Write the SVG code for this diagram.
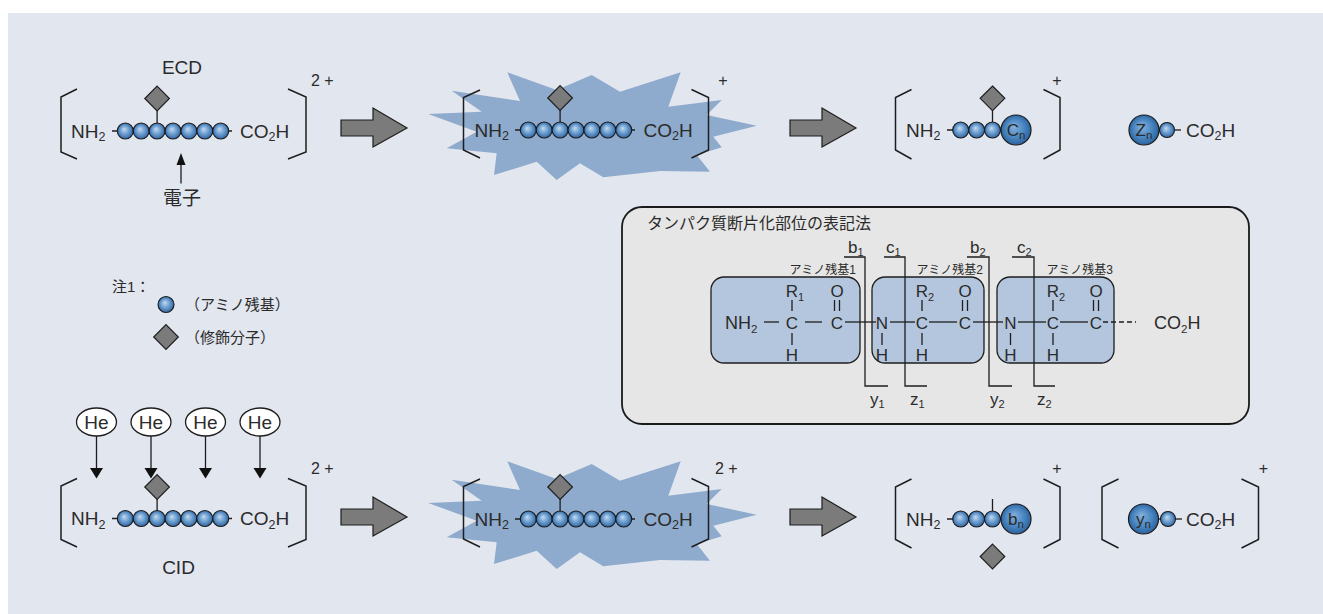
<svg xmlns="http://www.w3.org/2000/svg" xmlns:xlink="http://www.w3.org/1999/xlink" width="1323" height="614" viewBox="0 0 1323 614">
  <style>
    .t { font-family: "Liberation Sans", "Noto Sans CJK JP", sans-serif; fill: #2b2b2b; }
    .f19 { font-size: 19px; }
    .f18 { font-size: 18px; }
    .f17 { font-size: 17px; }
    .f16 { font-size: 16px; }
    .f15 { font-size: 15px; }
    .f12 { font-size: 12px; }
    .mid { text-anchor: middle; }
    .end { text-anchor: end; }
    .ln { stroke: #1e1e1e; stroke-width: 1.3; fill: none; }
    .br { stroke: #1e1e1e; stroke-width: 1.5; fill: none; }
    .he { fill: #ffffff; stroke: #1e1e1e; stroke-width: 1.3; }
    .panel { fill: #e6e6e6; stroke: #1a1a1a; stroke-width: 1.8; }
    .res { fill: #b4c6de; stroke: #1e1e1e; stroke-width: 1.3; }
    .head { fill: #111; }
  </style>
  <defs>
    <radialGradient id="gBead" cx="0.5" cy="0.5" r="0.55" fx="0.42" fy="0.38">
      <stop offset="0" stop-color="#c4daef"/>
      <stop offset="0.5" stop-color="#6b9dd0"/>
      <stop offset="1" stop-color="#275c96"/>
    </radialGradient>
    <radialGradient id="gBig" cx="0.5" cy="0.5" r="0.55" fx="0.42" fy="0.38">
      <stop offset="0" stop-color="#86b2dc"/>
      <stop offset="0.6" stop-color="#4683bf"/>
      <stop offset="1" stop-color="#275b94"/>
    </radialGradient>
    <circle id="bead" r="8" fill="url(#gBead)" stroke="#1a1a1a" stroke-width="1.1"/>
    <circle id="bigBead" r="15" fill="url(#gBig)" stroke="#1a1a1a" stroke-width="1.2"/>
    <path id="dia" d="M0,-12.3 L12.3,0 L0,12.3 L-12.3,0 Z" fill="#7b7b7b" stroke="#1e1e1e" stroke-width="1.2"/>
    <polygon id="burst" points="451.7,90.7 520,101 507.3,72.3 556.7,90 591.7,75 620,91.7 680.7,72.3 668.3,106.7 721.7,100 706.7,115 756.7,125.7 713.3,136.7 721.7,147.3 696.7,155 710,171.7 660,171 603.3,177.3 580,163.3 556.7,180 536.7,161.7 494,175 496.7,153.3 446.7,148.3 476.7,131.7 428.3,114 481.7,111.7" fill="#8eaacc"/>
    <path id="bigArrow" d="M0,-8 L32,-8 L32,-20 L66,0 L32,19 L32,8 L0,8 Z" fill="#7b7b7b" stroke="#1e1e1e" stroke-width="1.2"/>
  </defs>

  <!-- background panel -->
  <rect x="8" y="13" width="1315" height="601" fill="#e2e6ef"/>

  <!-- ECD: doubly charged precursor -->
  <g id="ecd-precursor">
    <text class="t f19 mid" x="182" y="74">ECD</text>
    <polyline class="br" points="77,89 61,97 61,152 77,159"/>
    <polyline class="br" points="288,89 306,97 306,152 288,159"/>
    <text class="t f16" x="311" y="86">2 +</text>
    <text class="t f19" x="71" y="137.5">NH<tspan font-size="12.5" dy="3.5">2</tspan></text>
    <line class="ln" x1="112" y1="131" x2="232" y2="131"/>
    <line class="ln" x1="157.1" y1="110.5" x2="157.1" y2="123"/>
    <use xlink:href="#dia" x="157.1" y="98.5"/>
    <use xlink:href="#bead" x="125.3" y="131"/>
    <use xlink:href="#bead" x="141.2" y="131"/>
    <use xlink:href="#bead" x="157.1" y="131"/>
    <use xlink:href="#bead" x="173" y="131"/>
    <use xlink:href="#bead" x="188.9" y="131"/>
    <use xlink:href="#bead" x="204.8" y="131"/>
    <use xlink:href="#bead" x="220.7" y="131"/>
    <text class="t f19" x="240" y="137.5">CO<tspan font-size="12.5" dy="3.5">2</tspan><tspan dy="-3.5">H</tspan></text>
    <text class="t f19 mid" x="182" y="205">電子</text>
  </g>

  <!-- ECD: excited species -->
  <g id="ecd-excited">
    <use xlink:href="#burst"/>
    <polyline class="br" points="480,90 463.5,97.5 463.5,150 480,158"/>
    <polyline class="br" points="691.5,89.5 708.5,97.5 708.5,150 691.5,158"/>
    <text class="t f16 mid" x="723" y="86">+</text>
    <text class="t f19" x="474.5" y="136.5">NH<tspan font-size="12.5" dy="3.5">2</tspan></text>
    <line class="ln" x1="515" y1="130" x2="635" y2="130"/>
    <line class="ln" x1="560.1" y1="110" x2="560.1" y2="122"/>
    <use xlink:href="#dia" x="560.1" y="98"/>
    <use xlink:href="#bead" x="528.3" y="130"/>
    <use xlink:href="#bead" x="544.2" y="130"/>
    <use xlink:href="#bead" x="560.1" y="130"/>
    <use xlink:href="#bead" x="576" y="130"/>
    <use xlink:href="#bead" x="591.9" y="130"/>
    <use xlink:href="#bead" x="607.8" y="130"/>
    <use xlink:href="#bead" x="623.7" y="130"/>
    <text class="t f19" x="643.5" y="136.5">CO<tspan font-size="12.5" dy="3.5">2</tspan><tspan dy="-3.5">H</tspan></text>
  </g>

  <!-- ECD: c-ion fragment -->
  <g id="ecd-c-ion">
    <polyline class="br" points="911.5,89.5 895.5,97.5 895.5,150 911.5,159"/>
    <polyline class="br" points="1043.5,89.5 1060,97.5 1060,150 1043.5,159"/>
    <text class="t f16 mid" x="1057" y="86">+</text>
    <text class="t f19" x="906" y="136.5">NH<tspan font-size="12.5" dy="3.5">2</tspan></text>
    <line class="ln" x1="947" y1="130" x2="1000" y2="130"/>
    <line class="ln" x1="992.5" y1="110.5" x2="992.5" y2="122"/>
    <use xlink:href="#dia" x="992.5" y="98.3"/>
    <use xlink:href="#bead" x="960.7" y="130"/>
    <use xlink:href="#bead" x="976.6" y="130"/>
    <use xlink:href="#bead" x="992.5" y="130"/>
    <use xlink:href="#bigBead" x="1016" y="130"/>
    <text class="t f17 mid" x="1016" y="136">C<tspan font-size="11.5" dy="3">n</tspan></text>
  </g>

  <!-- ECD: z-ion fragment -->
  <g id="ecd-z-ion">
    <line class="ln" x1="1150" y1="130" x2="1181" y2="130"/>
    <use xlink:href="#bead" x="1167" y="130" transform="translate(1167 130) scale(0.94) translate(-1167 -130)"/>
    <use xlink:href="#bigBead" x="1144" y="130"/>
    <text class="t f17 mid" x="1144" y="136">Z<tspan font-size="11.5" dy="3">n</tspan></text>
    <text class="t f19" x="1186" y="136.5">CO<tspan font-size="12.5" dy="3.5">2</tspan><tspan dy="-3.5">H</tspan></text>
  </g>

  <!-- legend -->
  <g id="legend">
    <text class="t f15" x="112" y="292">注1：</text>
    <use xlink:href="#bead" x="166" y="304.5"/>
    <text class="t f15" x="185" y="310">（アミノ残基）</text>
    <use xlink:href="#dia" x="166" y="337"/>
    <text class="t f15" x="185" y="343">（修飾分子）</text>
  </g>

  <!-- notation panel for fragmentation sites -->
  <g id="notation">
    <rect class="panel" x="622" y="207" width="627" height="217" rx="20"/>
    <text class="t f16" x="647" y="229">タンパク質断片化部位の表記法</text>

    <rect class="res" x="711" y="277" width="149" height="86" rx="13"/>
    <rect class="res" x="872" y="277" width="112" height="86" rx="13"/>
    <rect class="res" x="997" y="277" width="117" height="86" rx="13"/>
    <text class="t f12 end" x="856" y="274">アミノ残基1</text>
    <text class="t f12 end" x="983" y="274">アミノ残基2</text>
    <text class="t f12 end" x="1113" y="274">アミノ残基3</text>

    <!-- side chains and carbonyl oxygens -->
    <text class="t f17 mid" x="795" y="297">R<tspan font-size="11" dy="4">1</tspan></text>
    <text class="t f17 mid" x="837" y="297">O</text>
    <text class="t f17 mid" x="925" y="297">R<tspan font-size="11" dy="4">2</tspan></text>
    <text class="t f17 mid" x="965" y="297">O</text>
    <text class="t f17 mid" x="1056" y="297">R<tspan font-size="11" dy="4">2</tspan></text>
    <text class="t f17 mid" x="1096" y="297">O</text>

    <g class="ln">
      <line x1="792" y1="300" x2="792" y2="311"/>
      <line x1="922" y1="300" x2="922" y2="311"/>
      <line x1="1053" y1="300" x2="1053" y2="311"/>
      <line x1="834.5" y1="300" x2="834.5" y2="311"/>
      <line x1="839.5" y1="300" x2="839.5" y2="311"/>
      <line x1="962.5" y1="300" x2="962.5" y2="311"/>
      <line x1="967.5" y1="300" x2="967.5" y2="311"/>
      <line x1="1093.5" y1="300" x2="1093.5" y2="311"/>
      <line x1="1098.5" y1="300" x2="1098.5" y2="311"/>
      <!-- backbone bonds -->
      <line x1="764" y1="322" x2="779" y2="322"/>
      <line x1="805" y1="322" x2="822" y2="322"/>
      <line x1="845" y1="322" x2="876" y2="322"/>
      <line x1="890" y1="322" x2="915" y2="322"/>
      <line x1="929" y1="322" x2="957" y2="322"/>
      <line x1="973" y1="322" x2="1003" y2="322"/>
      <line x1="1018" y1="322" x2="1046" y2="322"/>
      <line x1="1060" y1="322" x2="1088" y2="322"/>
      <line x1="1103" y1="322" x2="1136" y2="322" stroke-dasharray="5 3"/>
      <!-- bonds to hydrogens -->
      <line x1="792" y1="333" x2="792" y2="345"/>
      <line x1="882" y1="333" x2="882" y2="345"/>
      <line x1="922" y1="333" x2="922" y2="345"/>
      <line x1="1010.5" y1="333" x2="1010.5" y2="345"/>
      <line x1="1053" y1="333" x2="1053" y2="345"/>
    </g>

    <text class="t f18" x="725" y="329">NH<tspan font-size="11.5" dy="4">2</tspan></text>
    <text class="t f17 mid" x="792" y="329">C</text>
    <text class="t f17 mid" x="837" y="329">C</text>
    <text class="t f17 mid" x="882" y="329">N</text>
    <text class="t f17 mid" x="922" y="329">C</text>
    <text class="t f17 mid" x="965" y="329">C</text>
    <text class="t f17 mid" x="1010.5" y="329">N</text>
    <text class="t f17 mid" x="1053" y="329">C</text>
    <text class="t f17 mid" x="1096" y="329">C</text>
    <text class="t f18" x="1154" y="329">CO<tspan font-size="11.5" dy="4">2</tspan><tspan dy="-4">H</tspan></text>

    <text class="t f17 mid" x="792" y="361">H</text>
    <text class="t f17 mid" x="882" y="361">H</text>
    <text class="t f17 mid" x="922" y="361">H</text>
    <text class="t f17 mid" x="1010.5" y="361">H</text>
    <text class="t f17 mid" x="1053" y="361">H</text>

    <!-- cleavage sites -->
    <polyline class="ln" points="844,257 865,257 865,386 888,386"/>
    <polyline class="ln" points="884,257 905,257 905,386 927,386"/>
    <polyline class="ln" points="967,257 989,257 989,386 1012,386"/>
    <polyline class="ln" points="1012,257 1034,257 1034,386 1055,386"/>
    <text class="t f17" x="848" y="253">b<tspan font-size="11" dy="3">1</tspan></text>
    <text class="t f17" x="886" y="253">c<tspan font-size="11" dy="3">1</tspan></text>
    <text class="t f17" x="970" y="253">b<tspan font-size="11" dy="3">2</tspan></text>
    <text class="t f17" x="1017" y="253">c<tspan font-size="11" dy="3">2</tspan></text>
    <text class="t f17" x="870" y="405">y<tspan font-size="11" dy="3">1</tspan></text>
    <text class="t f17" x="910" y="405">z<tspan font-size="11" dy="3">1</tspan></text>
    <text class="t f17" x="990" y="405">y<tspan font-size="11" dy="3">2</tspan></text>
    <text class="t f17" x="1037" y="405">z<tspan font-size="11" dy="3">2</tspan></text>
  </g>

  <!-- CID: He collision partners -->
  <g id="he-atoms">
    <ellipse class="he" cx="96.5" cy="422" rx="20" ry="14"/>
    <ellipse class="he" cx="151" cy="422" rx="20" ry="14"/>
    <ellipse class="he" cx="205.5" cy="422" rx="20" ry="14"/>
    <ellipse class="he" cx="260" cy="422" rx="20" ry="14"/>
    <text class="t f19 mid" x="96.5" y="429">He</text>
    <text class="t f19 mid" x="151" y="429">He</text>
    <text class="t f19 mid" x="205.5" y="429">He</text>
    <text class="t f19 mid" x="260" y="429">He</text>
  </g>

  <!-- CID: doubly charged precursor -->
  <g id="cid-precursor">
    <polyline class="br" points="77,478.5 61,486 61,539.5 77,547"/>
    <polyline class="br" points="288,478.5 306,486 306,539.5 288,547"/>
    <text class="t f16" x="311" y="474">2 +</text>
    <text class="t f19" x="71" y="525">NH<tspan font-size="12.5" dy="3.5">2</tspan></text>
    <line class="ln" x1="112" y1="518.5" x2="232" y2="518.5"/>
    <line class="ln" x1="157.1" y1="499" x2="157.1" y2="510.5"/>
    <use xlink:href="#dia" x="157.1" y="487"/>
    <use xlink:href="#bead" x="125.3" y="518.5"/>
    <use xlink:href="#bead" x="141.2" y="518.5"/>
    <use xlink:href="#bead" x="157.1" y="518.5"/>
    <use xlink:href="#bead" x="173" y="518.5"/>
    <use xlink:href="#bead" x="188.9" y="518.5"/>
    <use xlink:href="#bead" x="204.8" y="518.5"/>
    <use xlink:href="#bead" x="220.7" y="518.5"/>
    <text class="t f19" x="240" y="525">CO<tspan font-size="12.5" dy="3.5">2</tspan><tspan dy="-3.5">H</tspan></text>
    <text class="t f19 mid" x="178.5" y="573.5">CID</text>
  </g>

  <!-- CID: excited species -->
  <g id="cid-excited">
    <use xlink:href="#burst" y="389"/>
    <polyline class="br" points="480,479 463.5,486.5 463.5,539 480,547"/>
    <polyline class="br" points="691.5,478.5 708.5,486.5 708.5,539 691.5,547"/>
    <text class="t f16" x="715" y="473.5">2 +</text>
    <text class="t f19" x="474.5" y="525.5">NH<tspan font-size="12.5" dy="3.5">2</tspan></text>
    <line class="ln" x1="515" y1="519" x2="635" y2="519"/>
    <line class="ln" x1="560.1" y1="499" x2="560.1" y2="511"/>
    <use xlink:href="#dia" x="560.1" y="487"/>
    <use xlink:href="#bead" x="528.3" y="519"/>
    <use xlink:href="#bead" x="544.2" y="519"/>
    <use xlink:href="#bead" x="560.1" y="519"/>
    <use xlink:href="#bead" x="576" y="519"/>
    <use xlink:href="#bead" x="591.9" y="519"/>
    <use xlink:href="#bead" x="607.8" y="519"/>
    <use xlink:href="#bead" x="623.7" y="519"/>
    <text class="t f19" x="643.5" y="525.5">CO<tspan font-size="12.5" dy="3.5">2</tspan><tspan dy="-3.5">H</tspan></text>
  </g>

  <!-- CID: b-ion fragment, modification lost -->
  <g id="cid-b-ion">
    <polyline class="br" points="911.5,479 895.5,487 895.5,539.5 911.5,548"/>
    <polyline class="br" points="1043.5,479 1060,487 1060,539.5 1043.5,548"/>
    <text class="t f16 mid" x="1057" y="474">+</text>
    <text class="t f19" x="906" y="525.5">NH<tspan font-size="12.5" dy="3.5">2</tspan></text>
    <line class="ln" x1="947" y1="519" x2="1000" y2="519"/>
    <line class="ln" x1="992.5" y1="499" x2="992.5" y2="511"/>
    <use xlink:href="#bead" x="960.7" y="519"/>
    <use xlink:href="#bead" x="976.6" y="519"/>
    <use xlink:href="#bead" x="992.5" y="519"/>
    <use xlink:href="#bigBead" x="1016" y="519"/>
    <text class="t f17 mid" x="1016" y="525">b<tspan font-size="11.5" dy="3">n</tspan></text>
    <use xlink:href="#dia" x="992.5" y="556.5"/>
  </g>

  <!-- CID: y-ion fragment -->
  <g id="cid-y-ion">
    <polyline class="br" points="1118.5,479 1102,487 1102,539.5 1118.5,548"/>
    <polyline class="br" points="1241.5,479 1258.5,487 1258.5,539.5 1241.5,548"/>
    <text class="t f16 mid" x="1263.5" y="474">+</text>
    <line class="ln" x1="1150" y1="519" x2="1182" y2="519"/>
    <use xlink:href="#bead" x="1168" y="519" transform="translate(1168 519) scale(0.94) translate(-1168 -519)"/>
    <use xlink:href="#bigBead" x="1143.5" y="519"/>
    <text class="t f17 mid" x="1143.5" y="525">y<tspan font-size="11.5" dy="3">n</tspan></text>
    <text class="t f19" x="1186" y="525.5">CO<tspan font-size="12.5" dy="3.5">2</tspan><tspan dy="-3.5">H</tspan></text>
  </g>

  <!-- connectors -->
  <g id="connectors">
    <!-- electron capture -->
    <line class="ln" x1="181" y1="164" x2="181" y2="183.5"/>
    <polygon class="head" points="176.5,165 185.5,165 181,153"/>
    <!-- He impacts -->
    <line class="ln" x1="96.5" y1="436" x2="96.5" y2="469"/>
    <polygon class="head" points="90,468 103,468 96.5,478.5"/>
    <line class="ln" x1="151" y1="436" x2="151" y2="469"/>
    <polygon class="head" points="144.5,468 157.5,468 151,478.5"/>
    <line class="ln" x1="205.5" y1="436" x2="205.5" y2="469"/>
    <polygon class="head" points="199,468 212,468 205.5,478.5"/>
    <line class="ln" x1="260" y1="436" x2="260" y2="469"/>
    <polygon class="head" points="253.5,468 266.5,468 260,478.5"/>
    <!-- reaction arrows -->
    <use xlink:href="#bigArrow" x="341" y="128"/>
    <use xlink:href="#bigArrow" x="790" y="128"/>
    <use xlink:href="#bigArrow" x="341" y="517"/>
    <use xlink:href="#bigArrow" x="790" y="517"/>
  </g>
</svg>
